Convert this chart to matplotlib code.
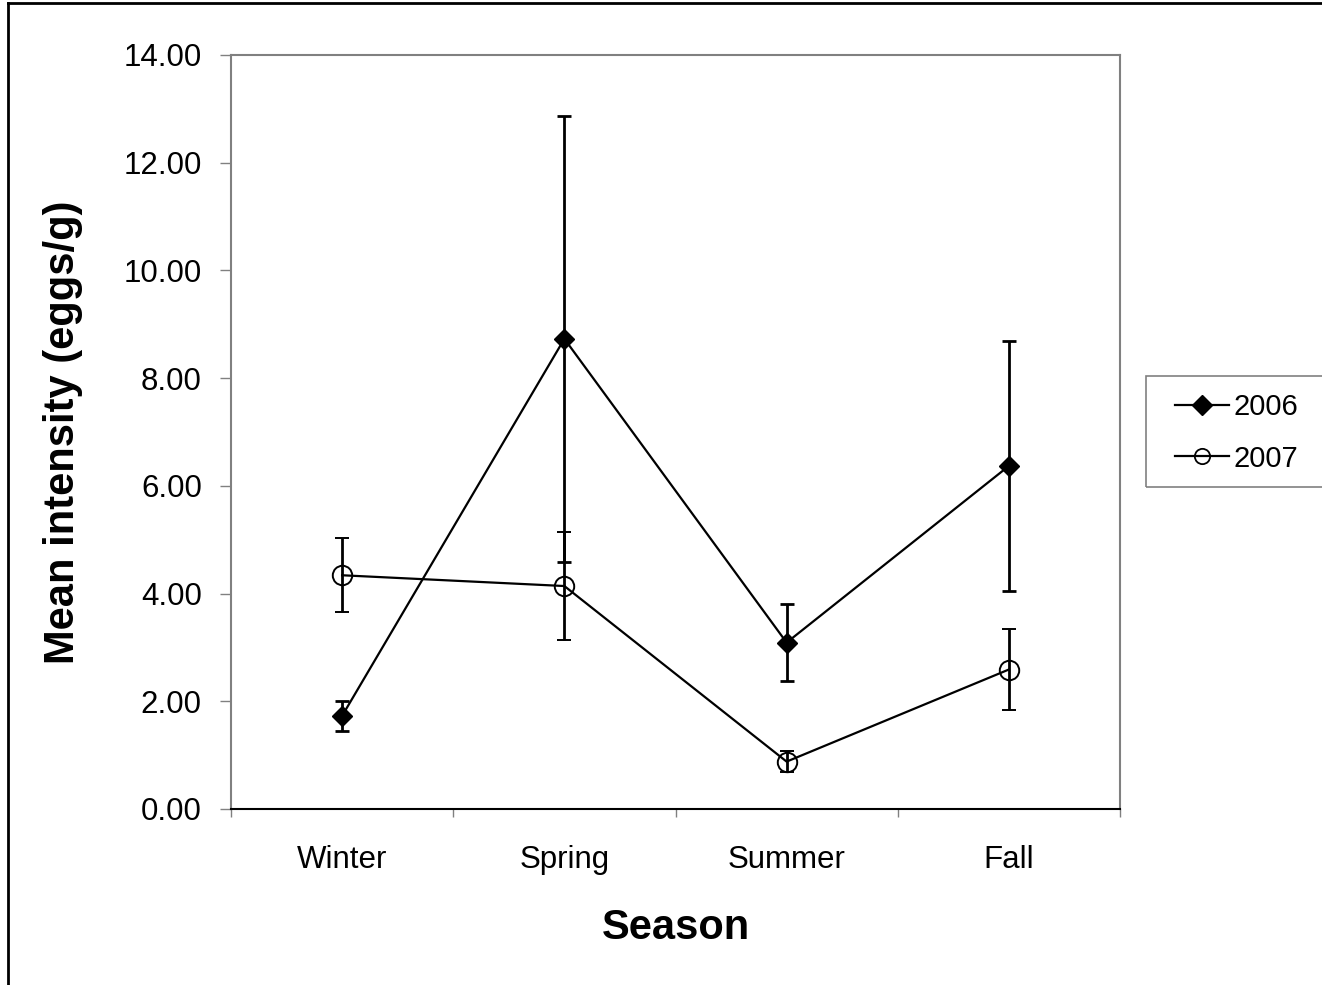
import matplotlib.pyplot as plt
from matplotlib.lines import Line2D
from matplotlib.patches import Rectangle

plt.rcParams["font.family"] = ["Liberation Sans", "DejaVu Sans"]

seasons = ["Winter", "Spring", "Summer", "Fall"]
mean_2006 = [1.73, 8.73, 3.09, 6.37]
err_2006 = [0.28, 4.14, 0.72, 2.32]
mean_2007 = [4.34, 4.14, 0.88, 2.59]
err_2007 = [0.69, 1.00, 0.20, 0.75]
yticks = [0, 2, 4, 6, 8, 10, 12, 14]

W, H = 1322, 985
fig = plt.figure(figsize=(W / 100, H / 100), dpi=100)
ax = fig.add_axes([231 / W, 1 - 809 / H, 889 / W, 754 / H])

x = list(range(len(seasons)))
ax.errorbar(x, mean_2006, yerr=err_2006, color="black", lw=1.6, marker="D",
            markersize=10, mfc="black", mec="black", capsize=5, capthick=2,
            elinewidth=2, label="2006", zorder=3)
ax.errorbar(x, mean_2007, yerr=err_2007, color="black", lw=1.6, marker="o",
            markersize=14, mfc="none", mec="black", mew=1.4, capsize=5,
            capthick=2, elinewidth=2, label="2007", zorder=3)

ax.set_xlim(-0.5, len(seasons) - 0.5)
ax.set_ylim(0, 14)
ax.set_yticks(yticks)
ax.set_yticklabels([f"{v:.2f}" for v in yticks], fontsize=22.5)
ax.set_xticks([i - 0.5 for i in range(len(seasons) + 1)], minor=False)
ax.set_xticklabels([])
ax.set_xticks(x, minor=True)
ax.set_xticklabels(seasons, minor=True, fontsize=22.5)
ax.tick_params(axis="x", which="minor", length=0, pad=26)
ax.tick_params(axis="x", which="major", length=6, direction="out", color="gray", width=1)
ax.tick_params(axis="y", length=8, direction="out", color="gray", width=1, pad=13)

for side in ["top", "right", "left"]:
    ax.spines[side].set_color("gray")
    ax.spines[side].set_linewidth(1.5)
ax.spines["bottom"].set_color("black")
ax.spines["bottom"].set_linewidth(1.5)

ax.set_xlabel("Season", fontsize=30, fontweight="bold", labelpad=24)
ax.set_ylabel("Mean intensity (eggs/g)", fontsize=30, fontweight="bold", labelpad=29)

# legend box drawn separately so it matches the original frame
fig.add_artist(Rectangle((1146 / W, 1 - 487 / H), (W + 5 - 1146) / W, 111 / H,
                         transform=fig.transFigure, fill=False, edgecolor="gray",
                         lw=1.2))
handles = [
    Line2D([], [], color="black", lw=1.6, marker="D", markersize=10, mfc="black"),
    Line2D([], [], color="black", lw=1.6, marker="o", markersize=11, mfc="none", mew=1.3),
]
fig.legend(handles, ["2006", "2007"], loc="center left",
           bbox_to_anchor=(1175 / W, 1 - 433 / H), fontsize=21,
           frameon=False, handlelength=1.85, handletextpad=0.15,
           borderpad=0, labelspacing=0.8, borderaxespad=0)

# outer chart border (left and top visible)
fig.add_artist(Line2D([8 / W, 8 / W], [0, 1 - 3 / H], color="black", lw=2,
                      transform=fig.transFigure))
fig.add_artist(Line2D([8 / W, 1], [1 - 3 / H, 1 - 3 / H], color="black", lw=2,
                      transform=fig.transFigure))

fig.savefig("out.png", dpi=100)
